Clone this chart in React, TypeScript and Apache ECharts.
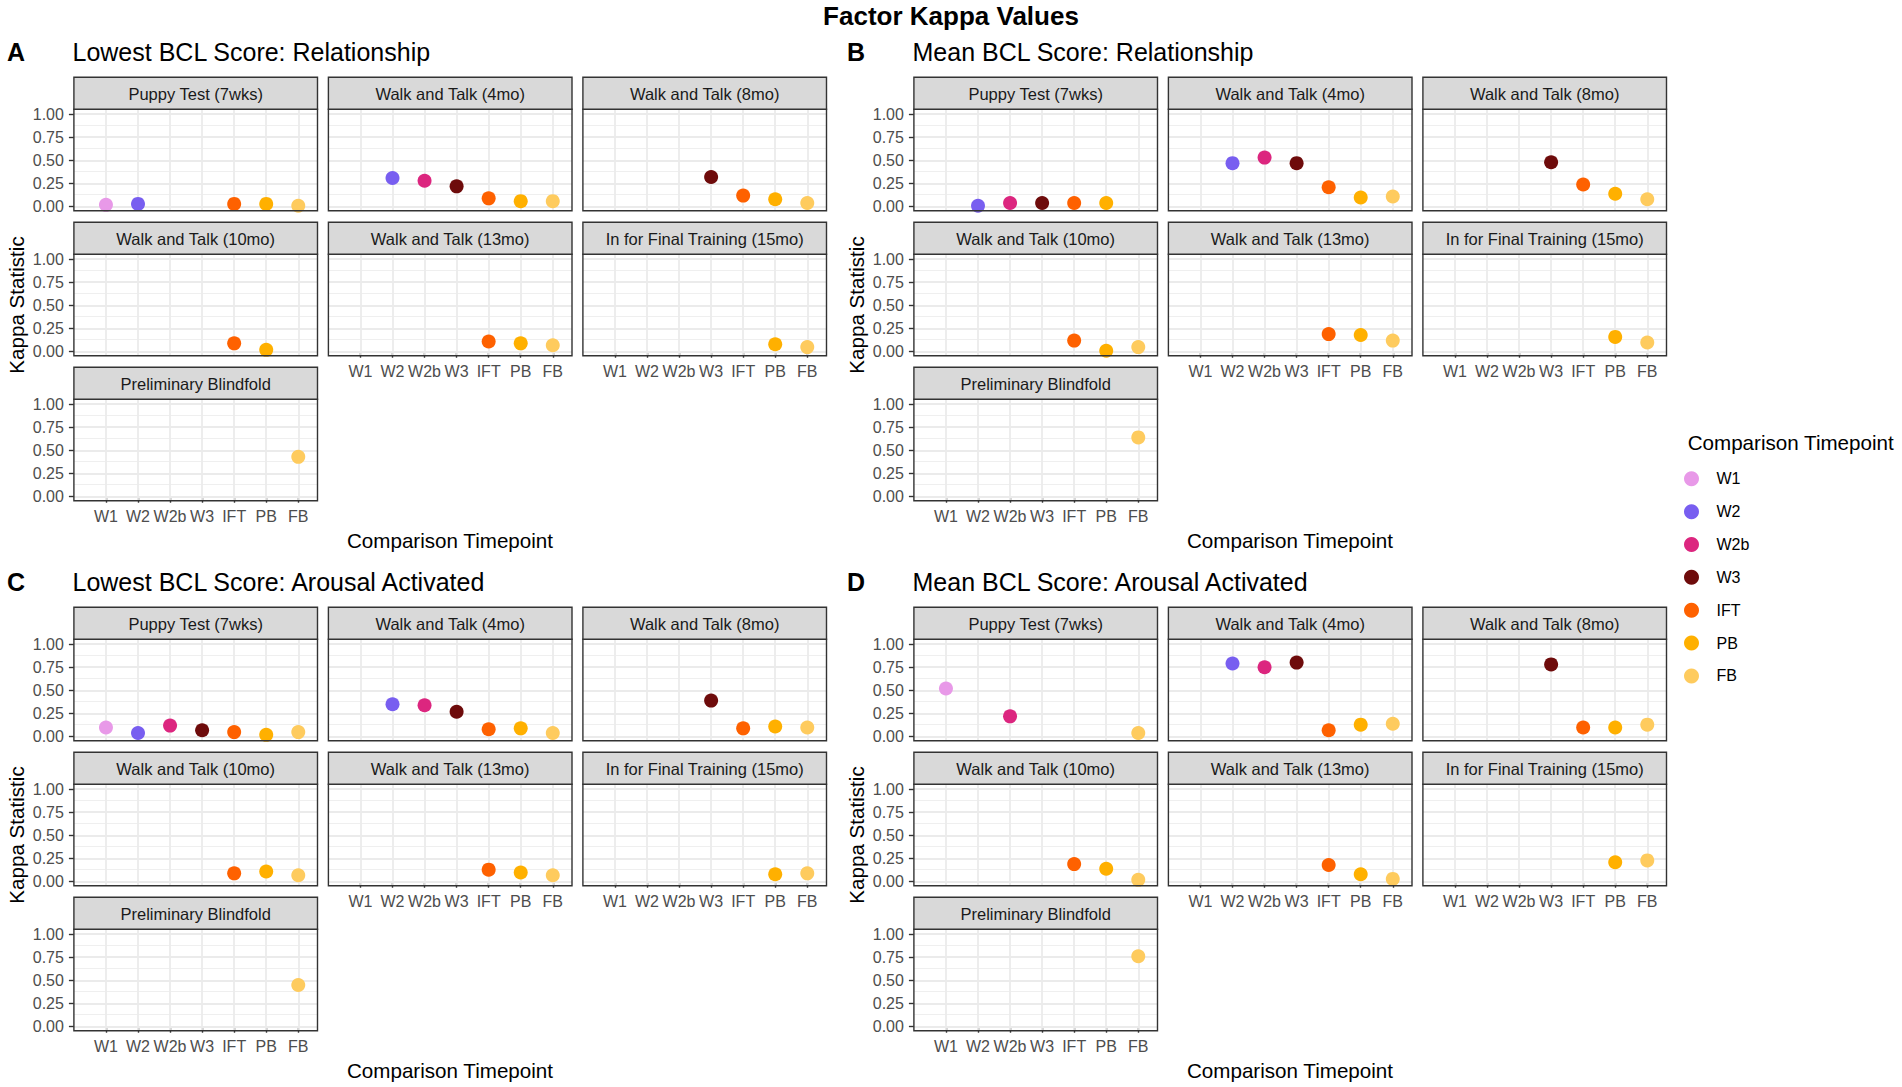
import React, { useEffect, useRef } from "react";
import * as echarts from "echarts";

// ---------------- data ----------------
const timepoints = ["W1", "W2", "W2b", "W3", "IFT", "PB", "FB"];
const timepointColors = ["#E899E8", "#785EF0", "#DC267F", "#6E0B0B", "#FE6100", "#FFB000", "#FECB5E"];
const facetNames = [
  "Puppy Test (7wks)",
  "Walk and Talk (4mo)",
  "Walk and Talk (8mo)",
  "Walk and Talk (10mo)",
  "Walk and Talk (13mo)",
  "In for Final Training (15mo)",
  "Preliminary Blindfold",
];
const sectionLetters = ["A", "B", "C", "D"];
const sectionTitles = [
  "Lowest BCL Score: Relationship",
  "Mean BCL Score: Relationship",
  "Lowest BCL Score: Arousal Activated",
  "Mean BCL Score: Arousal Activated",
];
const yTickValues = [0, 0.25, 0.5, 0.75, 1];
const yMinorValues = [0.125, 0.375, 0.625, 0.875];

const _ = null;
// rows: facets; columns: W1, W2, W2b, W3, IFT, PB, FB
const lowestRelationship = [
  [0.02, 0.03, _, _, 0.03, 0.03, 0.01],
  [_, 0.31, 0.28, 0.22, 0.09, 0.06, 0.06],
  [_, _, _, 0.32, 0.12, 0.08, 0.04],
  [_, _, _, _, 0.09, 0.02, _],
  [_, _, _, _, 0.11, 0.09, 0.07],
  [_, _, _, _, _, 0.08, 0.05],
  [_, _, _, _, _, _, 0.43],
];
const meanRelationship = [
  [_, 0.01, 0.04, 0.04, 0.04, 0.04, _],
  [_, 0.47, 0.53, 0.47, 0.21, 0.1, 0.11],
  [_, _, _, 0.48, 0.24, 0.14, 0.08],
  [_, _, _, _, 0.12, 0.01, 0.05],
  [_, _, _, _, 0.19, 0.18, 0.12],
  [_, _, _, _, _, 0.16, 0.1],
  [_, _, _, _, _, _, 0.64],
];
const lowestArousal = [
  [0.1, 0.04, 0.12, 0.07, 0.05, 0.02, 0.05],
  [_, 0.35, 0.34, 0.27, 0.08, 0.09, 0.04],
  [_, _, _, 0.39, 0.09, 0.11, 0.1],
  [_, _, _, _, 0.09, 0.11, 0.07],
  [_, _, _, _, 0.13, 0.1, 0.07],
  [_, _, _, _, _, 0.08, 0.09],
  [_, _, _, _, _, _, 0.45],
];
const meanArousal = [
  [0.52, _, 0.22, _, _, _, 0.04],
  [_, 0.79, 0.75, 0.8, 0.07, 0.13, 0.14],
  [_, _, _, 0.78, 0.1, 0.1, 0.13],
  [_, _, _, _, 0.19, 0.14, 0.02],
  [_, _, _, _, 0.18, 0.08, 0.03],
  [_, _, _, _, _, 0.21, 0.23],
  [_, _, _, _, _, _, 0.76],
];
const sectionData = [lowestRelationship, meanRelationship, lowestArousal, meanArousal];

// ---------------- layout ----------------
const FONT = "'Liberation Sans', Arial, Helvetica, sans-serif";
const BASE_X = 73.9;
const BASE_Y = 77.3;
const PITCH_X = 254.5;
const PITCH_Y = 145;
const PANEL_W = 243.6;
const STRIP_H = 32;
const PLOT_H = 101.4;
const SEC_DX = 840;
const SEC_DY = 530;

function buildOption() {
  const grids: any[] = [];
  const xAxes: any[] = [];
  const yAxes: any[] = [];
  const series: any[] = [];
  const graphics: any[] = [];

  const xTickValues = timepoints.map((_t, i) => i + 1);

  sectionData.forEach((panels, s) => {
    const sx = (s % 2) * SEC_DX;
    const sy = Math.floor(s / 2) * SEC_DY;

    graphics.push({
      type: "text",
      silent: true,
      style: {
        text: sectionLetters[s], x: 7 + sx, y: 51.5 + sy, align: "left", verticalAlign: "middle",
        fontSize: 25, fontWeight: "bold", fontFamily: FONT, fill: "#000",
      },
    });
    graphics.push({
      type: "text",
      silent: true,
      style: {
        text: sectionTitles[s], x: 72.5 + sx, y: 51.5 + sy, align: "left", verticalAlign: "middle",
        fontSize: 25, fontFamily: FONT, fill: "#000",
      },
    });
    graphics.push({
      type: "text",
      silent: true,
      x: 450 + sx,
      y: 540 + sy,
      style: {
        text: "Comparison Timepoint", x: 0, y: 0, align: "center", verticalAlign: "middle",
        fontSize: 20.6, fontFamily: FONT, fill: "#000",
      },
    });
    graphics.push({
      type: "text",
      silent: true,
      x: 16 + sx,
      y: 305 + sy,
      rotation: Math.PI / 2,
      style: {
        text: "Kappa Statistic", x: 0, y: 0, align: "center", verticalAlign: "middle",
        fontSize: 20.6, fontFamily: FONT, fill: "#000",
      },
    });

    panels.forEach((vals, p) => {
      const col = p % 3;
      const row = Math.floor(p / 3);
      const left = BASE_X + sx + col * PITCH_X;
      const stripTop = BASE_Y + sy + row * PITCH_Y;
      const top = stripTop + STRIP_H;
      const k = grids.length;
      const showX = p >= 4;
      const showY = col === 0;

      grids.push({
        left, top, width: PANEL_W, height: PLOT_H,
        show: true, backgroundColor: "#FFFFFF", borderWidth: 0,
        containLabel: false, outerBoundsMode: "none",
      });
      xAxes.push({
        type: "value", gridIndex: k, min: 0, max: 7.6,
        axisLine: { show: false },
        splitLine: { show: false },
        minorTick: { show: false },
        minorSplitLine: { show: false },
        axisTick: {
          show: showX, customValues: xTickValues, length: 6,
          lineStyle: { color: "#333333", width: 1.4 },
        },
        axisLabel: {
          show: showX, customValues: xTickValues, margin: 8, hideOverlap: false,
          color: "#4D4D4D", fontSize: 16, fontFamily: FONT,
          formatter: (v: number) => timepoints[Math.round(v) - 1] ?? "",
        },
      });
      yAxes.push({
        type: "value", gridIndex: k, min: -0.043, max: 1.051,
        axisLine: { show: false },
        splitLine: { show: false },
        minorTick: { show: false },
        minorSplitLine: { show: false },
        axisTick: {
          show: showY, customValues: yTickValues, length: 5,
          lineStyle: { color: "#333333", width: 1.4 },
        },
        axisLabel: {
          show: showY, customValues: yTickValues, margin: 10, hideOverlap: false,
          color: "#4D4D4D", fontSize: 16, fontFamily: FONT,
          formatter: (v: number) => v.toFixed(2),
        },
      });

      // grid lines through the axis scales
      series.push({
        type: "line",
        name: `grid-${s}-${p}`,
        xAxisIndex: k,
        yAxisIndex: k,
        data: [],
        silent: true,
        z: 1,
        markLine: {
          z: 1,
          silent: true,
          symbol: ["none", "none"],
          label: { show: false },
          emphasis: { disabled: true },
          lineStyle: { color: "#EBEBEB", type: "solid", width: 1.8 },
          data: [
            ...yTickValues.map((v) => ({ yAxis: v, lineStyle: { color: "#EBEBEB", type: "solid", width: 1.8 } })),
            ...yMinorValues.map((v) => ({ yAxis: v, lineStyle: { color: "#EFEFEF", type: "solid", width: 1 } })),
            ...xTickValues.map((v) => ({ xAxis: v, lineStyle: { color: "#EBEBEB", type: "solid", width: 1.8 } })),
          ],
        },
      });

      const pts: any[] = [];
      vals.forEach((v, i) => {
        if (v !== null && v !== undefined) {
          pts.push({ value: [i + 1, v], itemStyle: { color: timepointColors[i], opacity: 1 } });
        }
      });
      series.push({
        type: "scatter",
        name: `${sectionLetters[s]} ${facetNames[p]}`,
        xAxisIndex: k,
        yAxisIndex: k,
        symbol: "circle",
        symbolSize: 14,
        z: 8,
        clip: false,
        itemStyle: { opacity: 1 },
        emphasis: { disabled: true },
        data: pts,
      });

      graphics.push({
        type: "rect",
        silent: true,
        z: 10,
        shape: { x: left, y: top, width: PANEL_W, height: PLOT_H },
        style: { fill: "none", stroke: "#333333", lineWidth: 1.4 },
      });
      graphics.push({
        type: "rect",
        silent: true,
        z: 10,
        shape: { x: left, y: stripTop, width: PANEL_W, height: STRIP_H },
        style: { fill: "#D9D9D9", stroke: "#333333", lineWidth: 1.4 },
      });
      graphics.push({
        type: "text",
        silent: true,
        z: 11,
        style: {
          text: facetNames[p], x: left + PANEL_W / 2, y: stripTop + STRIP_H / 2 + 0.5,
          align: "center", verticalAlign: "middle",
          fontSize: 16.5, fontFamily: FONT, fill: "#1A1A1A",
        },
      });
    });
  });

  timepoints.forEach((t, i) => {
    series.push({
      type: "scatter",
      name: t,
      xAxisIndex: 0,
      yAxisIndex: 0,
      data: [],
      symbol: "circle",
      itemStyle: { color: timepointColors[i], opacity: 1 },
    });
  });

  graphics.push({
    type: "text",
    silent: true,
    style: {
      text: "Factor Kappa Values", x: 951, y: 16, align: "center", verticalAlign: "middle",
      fontSize: 26, fontWeight: "bold", fontFamily: FONT, fill: "#000",
    },
  });
  graphics.push({
    type: "text",
    silent: true,
    style: {
      text: "Comparison Timepoint", x: 1687.7, y: 442.9, align: "left", verticalAlign: "middle",
      fontSize: 20.6, fontFamily: FONT, fill: "#000",
    },
  });

  return {
    animation: false,
    backgroundColor: "#FFFFFF",
    textStyle: { fontFamily: FONT },
    grid: grids,
    xAxis: xAxes,
    yAxis: yAxes,
    legend: {
      data: timepoints,
      orient: "vertical",
      left: 1684,
      top: 470.8,
      padding: 0,
      itemWidth: 40,
      itemHeight: 15,
      itemGap: 16.85,
      icon: "circle",
      selectedMode: false,
      itemStyle: { opacity: 1 },
      textStyle: { fontSize: 16, color: "#000", fontFamily: FONT, lineHeight: 15 },
    },
    graphic: graphics,
    series,
  };
}

export default function App() {
  const ref = useRef<HTMLDivElement>(null);
  useEffect(() => {
    if (!ref.current) return;
    const chart = echarts.init(ref.current, null, { renderer: "svg" });
    chart.setOption(buildOption() as any);
    return () => chart.dispose();
  }, []);
  return (
    <div
      ref={ref}
      style={{ position: "absolute", left: 0, top: 0, width: 1902, height: 1087, background: "#FFFFFF", overflow: "hidden" }}
    />
  );
}
